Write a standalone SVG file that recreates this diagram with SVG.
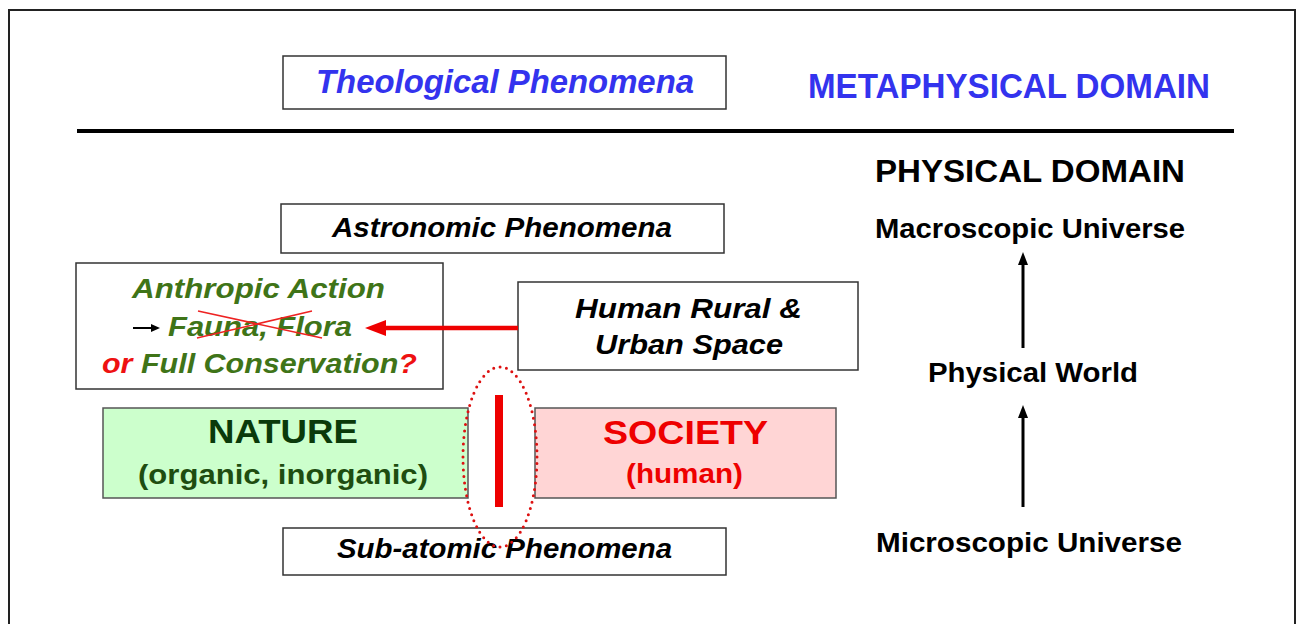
<svg xmlns="http://www.w3.org/2000/svg" width="1297" height="624" viewBox="0 0 1297 624">
<style>
text{font-family:"Liberation Sans",Arial,sans-serif;font-weight:bold;}
.it{font-style:italic;}
.box{fill:#fff;stroke:#333;stroke-width:1.5;}
.blk{fill:#000;}
.grn{fill:#3f7418;}
.red{fill:#ee1111;}
</style>
<rect x="0" y="0" width="1297" height="624" fill="#fff"/>
<rect x="9" y="10" width="1286" height="640" fill="none" stroke="#222" stroke-width="2"/>
<line x1="77" y1="131" x2="1234" y2="131" stroke="#000" stroke-width="4"/>

<g id="metaphysical-label">
<text x="808" y="98" font-size="35" fill="#3333ee" textLength="402" lengthAdjust="spacingAndGlyphs">METAPHYSICAL DOMAIN</text>
</g>
<g id="theological">
<rect class="box" x="283" y="56" width="443" height="53"/>
<text class="it" x="316" y="93" font-size="34" fill="#3333ee" textLength="378" lengthAdjust="spacingAndGlyphs">Theological Phenomena</text>
</g>
<g id="astronomic">
<rect class="box" x="281" y="204" width="443" height="49"/>
<text class="it blk" x="332" y="237" font-size="27" textLength="340" lengthAdjust="spacingAndGlyphs">Astronomic Phenomena</text>
</g>
<g id="anthropic">
<rect class="box" x="76" y="263" width="367" height="126"/>
<text class="it grn" x="132" y="298" font-size="28" textLength="253" lengthAdjust="spacingAndGlyphs">Anthropic Action</text>
<text class="it grn" x="168" y="336" font-size="28" textLength="184" lengthAdjust="spacingAndGlyphs">Fauna, Flora</text>
<text class="it grn" x="102" y="373" font-size="28" textLength="315" lengthAdjust="spacingAndGlyphs"><tspan class="red">or</tspan> Full Conservation<tspan class="red">?</tspan></text>
<line x1="198" y1="311" x2="322" y2="338" stroke="#ee2222" stroke-width="1.5"/>
<line x1="197" y1="338" x2="312" y2="311" stroke="#ee2222" stroke-width="1.5"/>
</g>
<g id="human-space">
<rect class="box" x="518" y="282" width="340" height="88"/>
<text class="it blk" x="575" y="318" font-size="28" textLength="227" lengthAdjust="spacingAndGlyphs">Human Rural &amp;</text>
<text class="it blk" x="595" y="354" font-size="28" textLength="188" lengthAdjust="spacingAndGlyphs">Urban Space</text>
</g>
<g id="nature">
<rect x="103" y="408" width="365" height="90" fill="#ccffcc" stroke="#555" stroke-width="1.5"/>
<text x="208" y="443" font-size="33" fill="#0a3a0a" textLength="150" lengthAdjust="spacingAndGlyphs">NATURE</text>
<text x="138" y="484" font-size="27" fill="#1e4d10" textLength="290" lengthAdjust="spacingAndGlyphs">(organic, inorganic)</text>
</g>
<g id="society">
<rect x="535" y="408" width="301" height="90" fill="#ffd5d5" stroke="#555" stroke-width="1.5"/>
<text x="603" y="444" font-size="33" fill="#ee0000" textLength="165" lengthAdjust="spacingAndGlyphs">SOCIETY</text>
<text x="626" y="483" font-size="27" fill="#ee0000" textLength="117" lengthAdjust="spacingAndGlyphs">(human)</text>
</g>
<g id="subatomic">
<rect class="box" x="283" y="528" width="443" height="47"/>
<text class="it blk" x="337" y="558" font-size="27" textLength="335" lengthAdjust="spacingAndGlyphs">Sub-atomic Phenomena</text>
</g>
<g id="physical-domain">
<text class="blk" x="875" y="182" font-size="31" textLength="310" lengthAdjust="spacingAndGlyphs">PHYSICAL DOMAIN</text>
</g>
<g id="macroscopic">
<text class="blk" x="875" y="238" font-size="27" textLength="310" lengthAdjust="spacingAndGlyphs">Macroscopic Universe</text>
</g>
<g id="physical-world">
<text class="blk" x="928" y="382" font-size="27" textLength="210" lengthAdjust="spacingAndGlyphs">Physical World</text>
</g>
<g id="microscopic">
<text class="blk" x="876" y="552" font-size="27" textLength="306" lengthAdjust="spacingAndGlyphs">Microscopic Universe</text>
</g>
<g id="divider">
<rect x="495" y="395" width="8" height="112" fill="#ee0000"/>
<ellipse cx="500" cy="457" rx="37" ry="90" fill="none" stroke="#dd1111" stroke-width="3" stroke-dasharray="0 6.5" stroke-linecap="round"/>
</g>
<g id="connectors">
<line x1="1023" y1="348" x2="1023" y2="264" stroke="#000" stroke-width="3"/>
<path d="M1023,252 L1018,265 L1028,265 Z" fill="#000"/>
<line x1="1023" y1="507" x2="1023" y2="417" stroke="#000" stroke-width="3"/>
<path d="M1023,405 L1018,418 L1028,418 Z" fill="#000"/>
<line x1="518" y1="328" x2="383" y2="328" stroke="#ee0000" stroke-width="4.5"/>
<path d="M365,328 L386,320 L386,336 Z" fill="#ee0000"/>
<line x1="133" y1="328" x2="152" y2="328" stroke="#000" stroke-width="2"/>
<path d="M160,328 L151,324 L151,332 Z" fill="#000"/>
</g>
</svg>
